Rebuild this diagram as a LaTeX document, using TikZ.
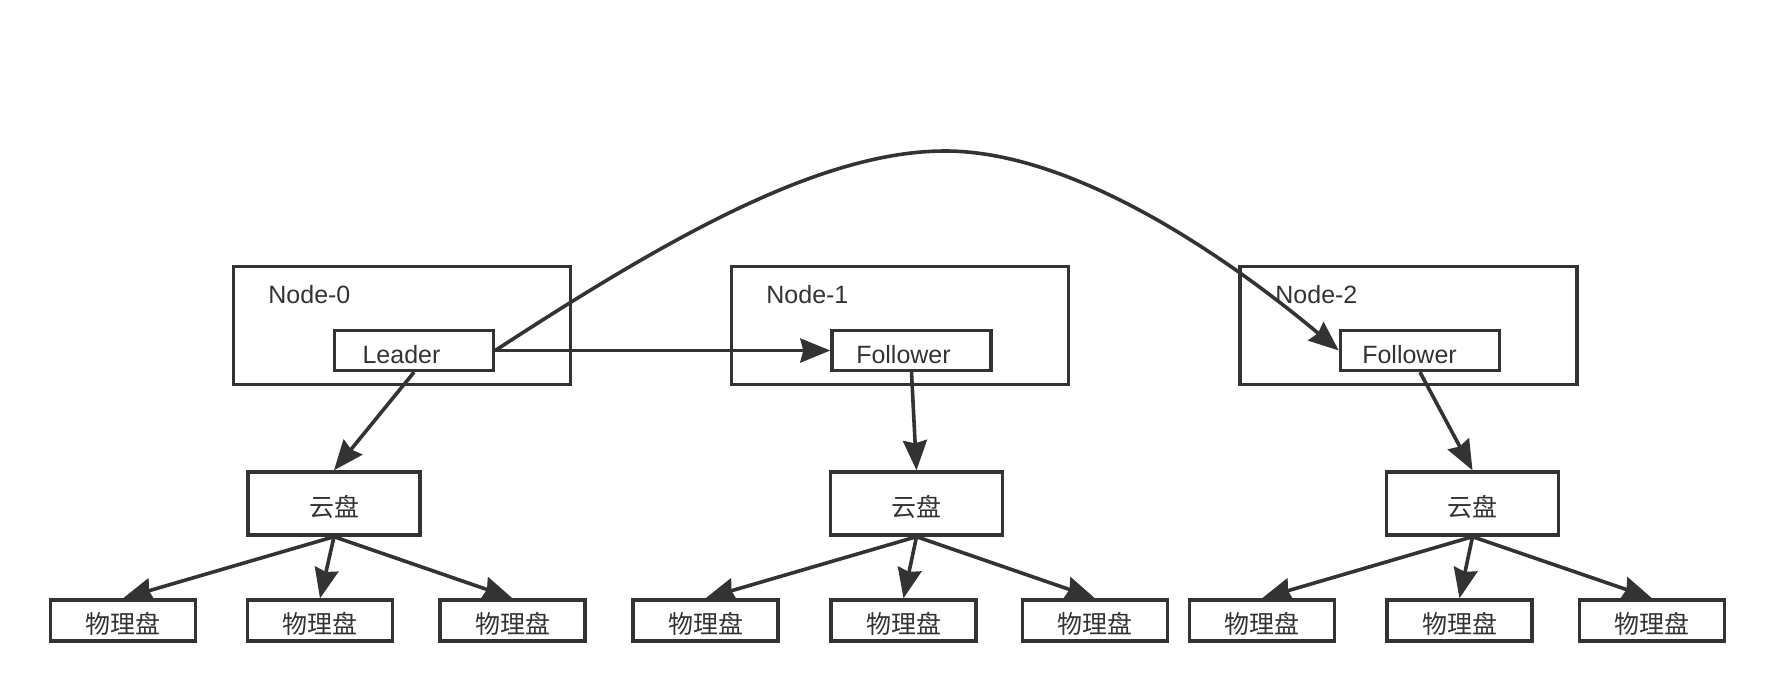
\documentclass[tikz,border=0pt]{standalone}
\usepackage{fontspec}
\setmainfont{Liberation Sans}
\newfontfamily\cjk{Noto Sans CJK SC}
\usetikzlibrary{arrows.meta}
\definecolor{ink}{HTML}{333333}
\begin{document}
\begin{tikzpicture}[x=0.5pt,y=-0.5pt,
  frame/.style={draw=ink,line width=1.7pt,rectangle,inner sep=0pt},
  hostbox/.style={frame,minimum width=168.5pt,minimum height=59pt},
  rolebox/.style={frame,minimum width=79.5pt,minimum height=20pt},
  cjklbl/.style={font=\cjk\fontsize{12.5}{15}\selectfont,text=ink,
    text height=14pt,text depth=1.5pt},
  cloudbox/.style={frame,cjklbl,minimum width=86pt,minimum height=31.5pt},
  diskbox/.style={frame,cjklbl,minimum width=72.5pt,minimum height=20.5pt},
  lbl/.style={text=ink,font=\fontsize{12.5}{15}\selectfont,inner sep=0pt},
  link/.style={draw=ink,line width=1.8pt,
    -{Stealth[length=15pt,width=12pt,inset=1.5pt]}}]
\useasboundingbox (0,0) rectangle (1772,692);

% storage hosts
\node[hostbox] (n0) at (402,325.5) {};
\node[hostbox] (n1) at (900,325.5) {};
\node[hostbox] (n2) at (1408.5,325.5) {};
\node[lbl,anchor=base west] (n0t) at (268,303) {Node-0};
\node[lbl,anchor=base west] (n1t) at (766,303) {Node-1};
\node[lbl,anchor=base west] (n2t) at (1275,303) {Node-2};

% replica roles
\node[rolebox] (lead) at (414,350.5) {};
\node[rolebox] (fol1) at (911.5,350.5) {};
\node[rolebox] (fol2) at (1420,350.5) {};
\node[lbl,anchor=base] (leadt) at (401.5,363) {Leader};
\node[lbl,anchor=base] (fol1t) at (903.5,363) {Follower};
\node[lbl,anchor=base] (fol2t) at (1409.5,363) {Follower};

% cloud disks
\node[cloudbox] (c0) at (334,503.5) {云盘};
\node[cloudbox] (c1) at (916.5,503.5) {云盘};
\node[cloudbox] (c2) at (1472.5,503.5) {云盘};

% physical disks
\node[diskbox] (d00) at (123,620.5) {物理盘};
\node[diskbox] (d01) at (320,620.5) {物理盘};
\node[diskbox] (d02) at (512.5,620.5) {物理盘};
\node[diskbox] (d10) at (705.5,620.5) {物理盘};
\node[diskbox] (d11) at (903.5,620.5) {物理盘};
\node[diskbox] (d12) at (1095,620.5) {物理盘};
\node[diskbox] (d20) at (1262,620.5) {物理盘};
\node[diskbox] (d21) at (1459.5,620.5) {物理盘};
\node[diskbox] (d22) at (1652,620.5) {物理盘};

% replication
\coordinate (arcpeak) at (945,151);
\draw[link] (lead.east) -- (fol1.west);
\draw[link] (lead.east) .. controls +(172,-112) and +(-125,0) .. (arcpeak)
  .. controls +(130,0) and +(-110,-92) .. (fol2.west);

% replicas to cloud disks
\draw[link] (lead.south) -- (c0.north);
\draw[link] (fol1.south) -- (c1.north);
\draw[link] (fol2.south) -- (c2.north);

% cloud disks to physical disks
\foreach \g in {0,1,2}{
  \foreach \k in {0,1,2}{
    \draw[link] (c\g.south) -- (d\g\k.north);
  }
}
\end{tikzpicture}
\end{document}
